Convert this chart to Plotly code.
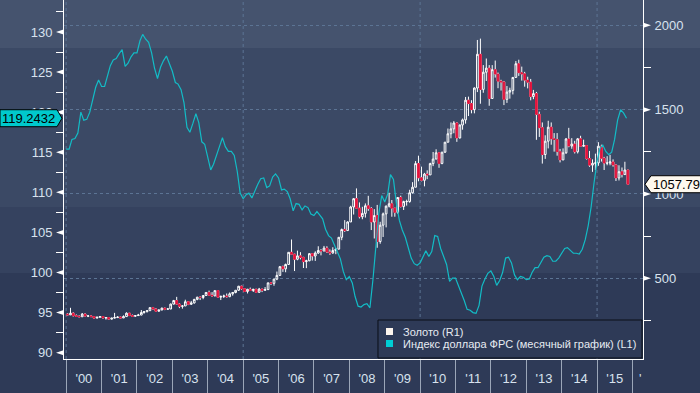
import pandas as pd
import plotly.graph_objects as go

# ---------------- data ----------------
# Monthly gold OHLC, Jan 2000 .. Nov 2015 (R1)
gold_open = [
    288, 283, 293, 278, 275, 272, 288, 276, 277, 273, 264, 269,
    273, 265, 267, 258, 264, 267, 270, 265, 273, 293, 279, 275,
    279, 282, 297, 302, 308, 326, 318, 305, 312, 323, 317, 318,
    347, 368, 347, 334, 336, 361, 346, 354, 375, 388, 386, 398,
    416, 400, 396, 427, 388, 393, 395, 391, 408, 416, 429, 453,
    438, 422, 435, 428, 435, 417, 436, 429, 433, 473, 470, 495,
    517, 569, 556, 582, 654, 643, 613, 633, 624, 599, 604, 646,
    632, 650, 665, 662, 679, 656, 650, 665, 673, 743, 789, 783,
    834, 923, 972, 916, 865, 885, 930, 914, 834, 872, 718, 815,
    882, 928, 942, 916, 891, 979, 926, 955, 955, 1007, 1040, 1180,
    1096, 1081, 1118, 1113, 1180, 1207, 1244, 1181, 1248, 1307, 1357, 1386,
    1421, 1332, 1409, 1439, 1556, 1536, 1500, 1628, 1828, 1620, 1722, 1746,
    1566, 1737, 1711, 1669, 1664, 1561, 1604, 1614, 1691, 1772, 1719, 1712,
    1675, 1663, 1578, 1595, 1472, 1393, 1234, 1313, 1396, 1327, 1323, 1251,
    1202, 1244, 1326, 1284, 1296, 1250, 1327, 1283, 1287, 1210, 1171, 1182,
    1184, 1283, 1212, 1183, 1183, 1190, 1172, 1095, 1132, 1115, 1142,
]
gold_high = [
    293, 325, 298, 286, 280, 294, 292, 280, 280, 275, 272, 275,
    274, 270, 269, 265, 295, 275, 272, 280, 298, 294, 285, 282,
    289, 312, 305, 310, 328, 330, 321, 315, 326, 325, 324, 350,
    372, 390, 352, 341, 373, 365, 366, 378, 390, 392, 400, 418,
    427, 418, 428, 427, 396, 403, 410, 416, 418, 430, 455, 456,
    442, 437, 445, 437, 436, 443, 437, 448, 474, 478, 497, 540,
    573, 575, 587, 654, 730, 645, 664, 655, 627, 610, 650, 648,
    660, 690, 673, 692, 690, 671, 684, 680, 745, 795, 845, 838,
    930, 975, 1033, 950, 924, 944, 989, 922, 910, 935, 835, 890,
    931, 1007, 964, 917, 981, 990, 960, 966, 1025, 1070, 1195, 1227,
    1162, 1125, 1140, 1185, 1249, 1265, 1245, 1248, 1308, 1388, 1424, 1432,
    1425, 1411, 1447, 1575, 1577, 1556, 1632, 1913, 1921, 1764, 1803, 1764,
    1764, 1791, 1720, 1677, 1668, 1640, 1630, 1693, 1788, 1796, 1755, 1724,
    1695, 1682, 1617, 1605, 1488, 1424, 1348, 1434, 1424, 1361, 1361, 1267,
    1270, 1332, 1392, 1331, 1315, 1332, 1345, 1322, 1290, 1255, 1205, 1239,
    1307, 1292, 1220, 1224, 1232, 1205, 1175, 1170, 1157, 1191, 1142,
]
gold_low = [
    280, 282, 274, 271, 270, 271, 275, 270, 270, 263, 263, 267,
    262, 255, 255, 255, 262, 265, 263, 264, 271, 277, 271, 271,
    277, 281, 290, 298, 306, 316, 302, 302, 311, 311, 315, 317,
    345, 345, 323, 320, 336, 341, 342, 350, 370, 371, 376, 397,
    399, 392, 393, 385, 371, 383, 386, 388, 397, 411, 425, 432,
    419, 410, 425, 419, 414, 414, 418, 425, 432, 460, 456, 489,
    515, 538, 536, 582, 640, 543, 607, 612, 561, 560, 601, 605,
    603, 645, 636, 660, 651, 639, 646, 643, 671, 726, 775, 780,
    834, 878, 915, 855, 850, 860, 900, 786, 736, 681, 705, 745,
    802, 920, 865, 865, 883, 920, 905, 931, 948, 1003, 1040, 1075,
    1075, 1045, 1088, 1113, 1165, 1206, 1155, 1176, 1243, 1305, 1330, 1360,
    1309, 1330, 1381, 1417, 1462, 1478, 1478, 1604, 1535, 1600, 1670, 1523,
    1565, 1690, 1627, 1613, 1527, 1540, 1565, 1590, 1690, 1700, 1672, 1636,
    1626, 1555, 1562, 1321, 1338, 1180, 1208, 1270, 1292, 1251, 1227, 1187,
    1200, 1238, 1277, 1268, 1240, 1240, 1281, 1280, 1204, 1161, 1131, 1142,
    1167, 1192, 1142, 1170, 1170, 1162, 1077, 1080, 1098, 1113, 1053,
]
gold_close = [
    283, 293, 278, 275, 272, 288, 276, 277, 273, 264, 269, 273,
    265, 267, 258, 264, 267, 270, 265, 273, 293, 279, 275, 279,
    282, 297, 302, 308, 326, 318, 305, 312, 323, 317, 318, 347,
    368, 347, 334, 336, 361, 346, 354, 375, 388, 386, 398, 416,
    400, 396, 427, 388, 393, 395, 391, 408, 416, 429, 453, 438,
    422, 435, 428, 435, 417, 436, 429, 433, 473, 470, 495, 517,
    569, 556, 582, 654, 643, 613, 633, 624, 599, 604, 646, 632,
    650, 665, 662, 679, 656, 650, 665, 673, 743, 789, 783, 834,
    923, 972, 916, 865, 885, 930, 914, 834, 872, 718, 815, 882,
    928, 942, 916, 891, 979, 926, 955, 955, 1007, 1040, 1180, 1096,
    1081, 1118, 1113, 1180, 1207, 1244, 1181, 1248, 1307, 1357, 1386, 1421,
    1332, 1409, 1439, 1556, 1536, 1500, 1628, 1828, 1620, 1722, 1746, 1566,
    1737, 1711, 1669, 1664, 1561, 1604, 1614, 1691, 1772, 1719, 1712, 1675,
    1663, 1578, 1595, 1472, 1393, 1234, 1313, 1396, 1327, 1323, 1251, 1202,
    1244, 1326, 1284, 1296, 1250, 1327, 1283, 1287, 1210, 1171, 1182, 1184,
    1283, 1212, 1183, 1183, 1190, 1172, 1095, 1132, 1115, 1142, 1057.79,
]

# Fed trade-weighted dollar index, monthly, Jan 2000 .. Nov 2015 (L1)
usd_index = [
    115.4, 115.4, 116.6, 116.7, 117.4, 120.0, 119.0, 119.1, 120.0, 121.5, 123.1, 124.0,
    123.2, 123.2, 124.4, 125.8, 126.5, 126.7, 127.3, 127.8, 125.7, 126.1, 126.9, 127.4,
    127.4, 128.9, 129.7, 129.1, 128.7, 127.4, 125.5, 124.2, 125.6, 126.4, 127.0, 126.0,
    125.1, 123.7, 123.5, 122.8, 121.2, 118.1, 117.5, 118.6, 119.8, 118.7, 116.3, 116.0,
    114.3, 112.8, 113.5, 114.5, 115.7, 116.8, 115.7, 115.1, 115.1, 114.6, 112.6, 109.9,
    109.2, 109.7, 109.9, 109.3, 110.2, 111.0, 111.7, 111.8, 110.6, 110.8, 111.9, 112.3,
    111.8, 110.3, 110.4, 110.1, 109.2, 107.7, 108.6, 108.5, 107.8, 108.3, 108.1, 107.3,
    107.1, 107.6, 107.2, 106.7, 105.4, 104.6, 104.3, 103.4, 102.6, 101.7, 100.1, 99.1,
    99.5, 98.7, 97.0, 95.8, 95.7, 96.0, 96.1, 95.6, 99.1, 102.8, 107.4, 109.6,
    108.8, 109.8, 112.2, 111.6, 108.6, 106.5, 105.3, 104.4, 102.9, 101.8, 101.1, 100.9,
    101.2, 102.1, 102.7, 102.0, 102.6, 104.6, 104.5, 103.0, 102.1, 101.0, 98.9, 99.3,
    99.3, 98.4, 97.4, 96.5, 95.4, 95.3, 95.0, 94.9, 95.9, 98.3, 99.2, 99.9,
    100.2, 99.5, 98.4, 99.0, 100.0, 101.8, 101.9, 101.2, 99.7, 99.1, 99.5, 99.4,
    99.1, 99.2, 100.0, 100.6, 100.6, 101.2, 101.9, 102.1, 102.0, 101.4, 101.4, 101.8,
    102.4, 103.0, 103.1, 102.7, 102.4, 102.4, 102.3, 102.9, 104.1, 105.8, 108.2, 111.2,
    113.9, 115.5, 115.9, 115.1, 114.7, 115.0, 116.6, 119.0, 120.3, 119.9, 119.2432,
]

left_ticks = [90, 95, 100, 105, 110, 115, 120, 125, 130]
left_minor = [92.5, 97.5, 102.5, 107.5, 112.5, 117.5, 122.5, 127.5, 132.5]
right_ticks = [500, 1000, 1500, 2000]
right_minor = [250, 750, 1250, 1750]
grid_years = ["2000-01-01", "2005-01-01", "2010-01-01", "2015-01-01"]

gold_name = "Золото (R1)"
usd_name = "Индекс доллара ФРС (месячный график) (L1)"

# ---------------- styles ----------------
RED = "#e2143d"
CYAN = "#13bcc6"
GRID = "#5c7494"
LABEL = "#d8e2ee"
FONT = "Liberation Sans"
BAND1, BAND2, BAND3, BAND4 = "#45536e", "#3b4965", "#35425f", "#2e3a57"

gold_dates = pd.date_range("2000-01-01", periods=len(gold_close), freq="MS") + pd.Timedelta(days=14)
usd_dates = pd.date_range("2000-01-01", periods=len(usd_index), freq="MS")

fig = go.Figure()

# all candles: hollow white up-candles, red down-candles with white wicks
fig.add_trace(go.Candlestick(
    x=gold_dates, open=gold_open, high=gold_high, low=gold_low, close=gold_close,
    yaxis="y", whiskerwidth=0, hoverinfo="skip", showlegend=False,
    increasing=dict(line=dict(color="white", width=1), fillcolor="rgba(0,0,0,0)"),
    decreasing=dict(line=dict(color="white", width=1), fillcolor=RED),
))
# red bodies only for down months (covers white outline)
dec = [i for i in range(len(gold_close)) if gold_close[i] < gold_open[i]]
fig.add_trace(go.Candlestick(
    x=[gold_dates[i] for i in dec],
    open=[gold_open[i] for i in dec],
    high=[gold_open[i] for i in dec],
    low=[gold_close[i] for i in dec],
    close=[gold_close[i] for i in dec],
    yaxis="y", whiskerwidth=0, hoverinfo="skip", showlegend=False,
    increasing=dict(line=dict(color=RED, width=1), fillcolor=RED),
    decreasing=dict(line=dict(color=RED, width=1), fillcolor=RED),
))
fig.add_trace(go.Scatter(
    x=usd_dates, y=usd_index, yaxis="y2", mode="lines",
    line=dict(color=CYAN, width=1.2), hoverinfo="skip", showlegend=False,
))

W = 579.0  # plot width px
L_PX = 8.0175  # px per unit, left axis
R_PX = 0.16867  # px per unit, right axis

shapes = []
# background bands
for y0, y1, c in [(0.8663, 1.0, BAND1), (0.4234, 0.8663, BAND2), (0.2396, 0.4234, BAND3)]:
    shapes.append(dict(type="rect", xref="paper", yref="paper", x0=-0.12, x1=1.12,
                       y0=y0, y1=y1, fillcolor=c, line=dict(width=0), layer="below"))
# vertical dashed grid every 5 years
for g in grid_years:
    shapes.append(dict(type="line", xref="x", yref="paper", x0=g, x1=g, y0=0, y1=1,
                       line=dict(color=GRID, width=1, dash="dot"), layer="below"))
# tick arrows
h = 2.5 / L_PX
for v in left_ticks:
    shapes.append(dict(type="path", xref="paper", yref="y2",
                       path=f"M {-8/W},{v} L {-0.5/W},{v+h} L {-0.5/W},{v-h} Z",
                       fillcolor="white", line=dict(width=0)))
h2 = 2.5 / R_PX
for v in right_ticks:
    shapes.append(dict(type="path", xref="paper", yref="y",
                       path=f"M {1+8/W},{v} L {1+0.5/W},{v+h2} L {1+0.5/W},{v-h2} Z",
                       fillcolor="white", line=dict(width=0)))
# last-value boxes
lv = usd_index[-1]
bh = 8.5 / L_PX
shapes.append(dict(type="path", xref="paper", yref="y2",
                   path=(f"M {-64/W},{lv+bh} L {-7/W},{lv+bh} L {-2/W},{lv} "
                         f"L {-7/W},{lv-bh} L {-64/W},{lv-bh} Z"),
                   fillcolor="#00c9cc", line=dict(color="black", width=1)))
gv = gold_close[-1]
bh2 = 8.5 / R_PX
shapes.append(dict(type="path", xref="paper", yref="y",
                   path=(f"M {1+2/W},{gv} L {1+8/W},{gv+bh2} L {1+70/W},{gv+bh2} "
                         f"L {1+70/W},{gv-bh2} L {1+8/W},{gv-bh2} Z"),
                   fillcolor="#fdf8ee", line=dict(color="black", width=1)))
# legend box
shapes.append(dict(type="rect", xref="paper", yref="paper", x0=0.5423, x1=0.9983,
                   y0=0.0028, y1=0.1086, fillcolor=BAND4, line=dict(color="#0b0f18", width=1)))
shapes.append(dict(type="rect", xref="paper", yref="paper", x0=0.5561, x1=0.5682,
                   y0=0.0669, y1=0.0864, fillcolor="#fdf5ee", line=dict(width=0)))
shapes.append(dict(type="rect", xref="paper", yref="paper", x0=0.5561, x1=0.5682,
                   y0=0.0334, y1=0.0529, fillcolor="#00cdd4", line=dict(width=0)))

annotations = [
    dict(xref="paper", yref="y2", x=-35.5 / W, y=lv, text=f"{lv:.4f}", showarrow=False,
         xanchor="center", yanchor="middle", font=dict(family=FONT, size=13, color="black")),
    dict(xref="paper", yref="y", x=1 + 8 / W, y=gv, text=f"{gv:.2f}", showarrow=False,
         xanchor="left", yanchor="middle", font=dict(family=FONT, size=13, color="black")),
    dict(xref="paper", yref="paper", x=0.582, y=0.0765, text=gold_name, showarrow=False,
         xanchor="left", yanchor="middle", font=dict(family=FONT, size=11, color="#e6ebf2")),
    dict(xref="paper", yref="paper", x=0.582, y=0.0425, text=usd_name, showarrow=False,
         xanchor="left", yanchor="middle", font=dict(family=FONT, size=11, color="#e6ebf2")),
    dict(xref="paper", yref="paper", x=(640 - 64) / W, y=-0.053, text="'", showarrow=False,
         xanchor="center", yanchor="middle", font=dict(family=FONT, size=13, color=LABEL)),
]

fig.update_layout(
    width=700, height=393,
    margin=dict(l=64, r=57, t=0, b=34),
    paper_bgcolor=BAND4, plot_bgcolor="rgba(0,0,0,0)",
    showlegend=False, boxgap=0.1,
    shapes=shapes, annotations=annotations,
    xaxis=dict(
        type="date", range=["1999-12-10", "2016-04-19"],
        tickformat="'%y", dtick="M12", tick0="2000-01-01", ticklabelmode="period",
        ticks="outside", ticklen=34, tickcolor="#9ba6b8", tickwidth=1,
        ticklabelstandoff=-27,
        showgrid=False, zeroline=False, showline=True, linecolor="white", linewidth=1,
        tickfont=dict(family=FONT, size=13, color=LABEL),
        rangeslider=dict(visible=False),
    ),
    yaxis=dict(
        side="right", range=[21.5, 2150], tickvals=right_ticks,
        ticks="outside", ticklen=8, tickcolor="rgba(0,0,0,0)",
        showgrid=True, gridcolor=GRID, griddash="dot", gridwidth=1,
        zeroline=False, showline=True, linecolor="white", linewidth=1,
        minor=dict(tickvals=right_minor, ticks="outside", ticklen=7, tickcolor="white", showgrid=False),
        tickfont=dict(family=FONT, size=13, color=LABEL),
    ),
    yaxis2=dict(
        overlaying="y", side="left", range=[89.21, 133.99], tickvals=left_ticks,
        ticks="outside", ticklen=8, tickcolor="rgba(0,0,0,0)",
        showgrid=False, zeroline=False, showline=True, linecolor="white", linewidth=1,
        minor=dict(tickvals=left_minor, ticks="outside", ticklen=7, tickcolor="white", showgrid=False),
        tickfont=dict(family=FONT, size=13, color=LABEL),
    ),
)

fig.write_html("out.html", config={"displayModeBar": False},
               post_script="document.body.style.margin='0';")
